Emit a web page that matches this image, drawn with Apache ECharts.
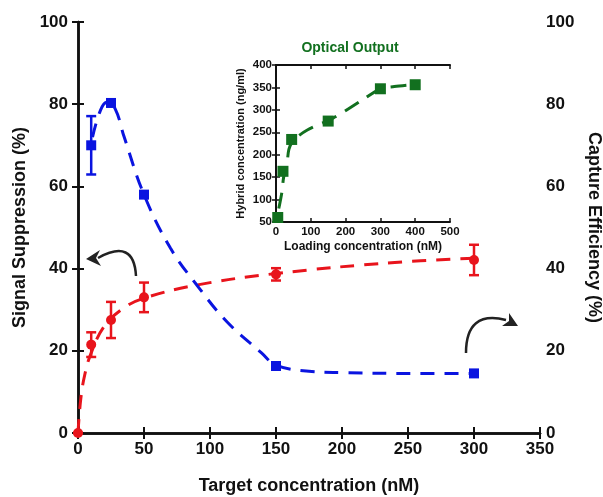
<!DOCTYPE html>
<html lang="en">
<head>
    <meta charset="UTF-8">
    <title>Signal suppression / capture efficiency</title>
    <script src="https://cdn.jsdelivr.net/npm/echarts@6/dist/echarts.min.js"></script>
    <style>
        html, body { margin: 0; padding: 0; background: #fff; }
        #main { width: 603px; height: 497px; }
    </style>
</head>
<body>
    <div id="main"></div>
    <script>
        // signal suppression (left axis, red)
        var redX = [0, 10, 25, 50, 150, 300];
        var redY = [0, 21.5, 27.5, 33, 38.6, 42.1];
        var redErr = [0, 3, 4.4, 3.6, 1.5, 3.7];
        // fitted red curve
        var redFitX = [0, 2, 5, 10, 20, 35, 50, 90, 150, 240, 300];
        var redFitY = [0, 8, 14, 19.5, 26, 30.5, 32.8, 36, 38.8, 41.5, 42.5];

        // capture efficiency (right axis, blue)
        var blueX = [10, 25, 50, 150, 300];
        var blueY = [70, 80.3, 58, 16.3, 14.5];
        var blueErr = [7.1, 0.6, 0.6, 0.5, 0.4];
        var blueFitX = [11, 17, 22, 28, 35, 50, 70, 90, 113, 139, 150, 175, 200, 250, 300];
        var blueFitY = [72, 78.5, 80.5, 79, 72, 58, 45, 36, 27, 19.5, 16.5, 15, 14.7, 14.5, 14.5];

        // inset: optical output
        var insetX = [5, 20, 45, 150, 300, 400];
        var insetY = [60, 163, 234, 275, 347, 356];
        var insetFitX = [8, 17, 22, 31, 37, 50, 90, 165, 240, 300, 340, 400];
        var insetFitY = [80, 117, 150, 175, 212, 232, 255, 282, 318, 347, 352, 357];

        var font = "'Liberation Sans', Arial, sans-serif";
        var red = '#e8141c';
        var blue = '#0a14e0';
        var green = '#12701f';

        function zip(xs, ys) {
            return xs.map(function (x, i) { return [x, ys[i]]; });
        }
        function errData(xs, ys, es) {
            return xs.map(function (x, i) { return [x, ys[i] - es[i], ys[i] + es[i]]; });
        }
        function errBars(color) {
            return function (params, api) {
                var x = api.value(0);
                var lo = api.coord([x, api.value(1)]);
                var hi = api.coord([x, api.value(2)]);
                var w = 5;
                var st = { stroke: color, lineWidth: 2.5 };
                return {
                    type: 'group',
                    children: [
                        { type: 'line', shape: { x1: lo[0], y1: lo[1], x2: hi[0], y2: hi[1] }, style: st },
                        { type: 'line', shape: { x1: lo[0] - w, y1: lo[1], x2: lo[0] + w, y2: lo[1] }, style: st },
                        { type: 'line', shape: { x1: hi[0] - w, y1: hi[1], x2: hi[0] + w, y2: hi[1] }, style: st }
                    ]
                };
            };
        }

        var lbl = { color: '#111', fontFamily: font, fontWeight: 'bold', fontSize: 17 };
        var axLine = { lineStyle: { color: '#111', width: 2.5 } };
        var tick = { inside: true, length: 6, lineStyle: { color: '#111', width: 2 } };
        var inLbl = { color: '#111', fontFamily: font, fontWeight: 'bold', fontSize: 11.5, margin: 4 };
        var inLine = { lineStyle: { color: '#111', width: 2 } };
        var inTick = { inside: true, length: 4, lineStyle: { color: '#111', width: 1.5 } };

        var chart = echarts.init(document.getElementById('main'));
        var option = {
            animation: false,
            backgroundColor: '#fff',
            title: {
                text: 'Optical Output',
                left: 345, top: 36, textAlign: 'center',
                textStyle: { color: green, fontFamily: font, fontWeight: 'bold', fontSize: 14 }
            },
            grid: [
                { left: 78, right: 63, top: 22, bottom: 64, outerBoundsMode: 'none' },
                { left: 276, top: 65, width: 174, height: 157, outerBoundsMode: 'none' }
            ],
            xAxis: [
                {
                    gridIndex: 0, type: 'value', min: 0, max: 350, interval: 50,
                    name: 'Target concentration (nM)', nameLocation: 'middle', nameGap: 44,
                    nameTextStyle: { color: '#111', fontFamily: font, fontWeight: 'bold', fontSize: 18 },
                    axisLine: axLine, axisTick: tick, axisLabel: lbl, splitLine: { show: false }
                },
                {
                    gridIndex: 0, type: 'value', min: 0, max: 350, interval: 50, position: 'top',
                    axisLine: axLine, axisTick: tick, axisLabel: { show: false }, splitLine: { show: false }
                },
                {
                    gridIndex: 1, type: 'value', min: 0, max: 500, interval: 100,
                    name: 'Loading concentration (nM)', nameLocation: 'middle', nameGap: 19,
                    nameTextStyle: { color: '#111', fontFamily: font, fontWeight: 'bold', fontSize: 12 },
                    axisLine: inLine, axisTick: inTick, axisLabel: inLbl, splitLine: { show: false }
                },
                {
                    gridIndex: 1, type: 'value', min: 0, max: 500, interval: 100, position: 'top',
                    axisLine: inLine, axisTick: inTick, axisLabel: { show: false }, splitLine: { show: false }
                }
            ],
            yAxis: [
                {
                    gridIndex: 0, type: 'value', min: 0, max: 100, interval: 20,
                    name: 'Signal Suppression (%)', nameLocation: 'middle', nameGap: 49,
                    nameTextStyle: { color: '#111', fontFamily: font, fontWeight: 'bold', fontSize: 18 },
                    axisLine: axLine, axisTick: tick, axisLabel: Object.assign({}, lbl, { margin: 10 }),
                    splitLine: { show: false }
                },
                {
                    gridIndex: 0, type: 'value', min: 0, max: 100, interval: 20, position: 'right',
                    name: 'Capture Efficiency (%)', nameLocation: 'middle', nameGap: 33, nameRotate: -90,
                    nameTextStyle: { color: '#111', fontFamily: font, fontWeight: 'bold', fontSize: 18 },
                    axisLine: axLine, axisTick: tick, axisLabel: Object.assign({}, lbl, { margin: 6 }),
                    splitLine: { show: false }
                },
                {
                    gridIndex: 1, type: 'value', min: 50, max: 400, interval: 50,
                    name: 'Hybrid concentration (ng/ml)', nameLocation: 'middle', nameGap: 30,
                    nameTextStyle: { color: '#111', fontFamily: font, fontWeight: 'bold', fontSize: 11 },
                    axisLine: inLine, axisTick: inTick, axisLabel: inLbl, splitLine: { show: false }
                },
                {
                    gridIndex: 1, type: 'value', min: 50, max: 400, interval: 50, position: 'right',
                    axisLine: inLine, axisTick: inTick, axisLabel: { show: false }, splitLine: { show: false }
                }
            ],
            series: [
                {
                    type: 'line', xAxisIndex: 0, yAxisIndex: 0, smooth: 0.4, symbol: 'none', z: 2,
                    data: zip(redFitX, redFitY),
                    lineStyle: { color: red, width: 3, type: [14, 10] }
                },
                {
                    type: 'line', xAxisIndex: 0, yAxisIndex: 1, smooth: 0.4, symbol: 'none', z: 2,
                    data: zip(blueFitX, blueFitY),
                    lineStyle: { color: blue, width: 3, type: [14, 10] }
                },
                {
                    type: 'custom', xAxisIndex: 0, yAxisIndex: 0, z: 3,
                    renderItem: errBars(red), data: errData(redX, redY, redErr)
                },
                {
                    type: 'custom', xAxisIndex: 0, yAxisIndex: 1, z: 3,
                    renderItem: errBars(blue), data: errData(blueX, blueY, blueErr)
                },
                {
                    type: 'scatter', xAxisIndex: 0, yAxisIndex: 0, clip: false, z: 4,
                    symbol: 'circle', symbolSize: 10, itemStyle: { color: red, opacity: 1 },
                    data: zip(redX, redY)
                },
                {
                    type: 'scatter', xAxisIndex: 0, yAxisIndex: 1, clip: false, z: 4,
                    symbol: 'rect', symbolSize: 10, itemStyle: { color: blue, opacity: 1 },
                    data: zip(blueX, blueY)
                },
                {
                    type: 'line', xAxisIndex: 2, yAxisIndex: 2, smooth: 0.3, symbol: 'none', z: 2,
                    data: zip(insetFitX, insetFitY),
                    lineStyle: { color: green, width: 3, type: [16, 10] }
                },
                {
                    type: 'scatter', xAxisIndex: 2, yAxisIndex: 2, clip: false, z: 4,
                    symbol: 'rect', symbolSize: 11, itemStyle: { color: green, opacity: 1 },
                    data: zip(insetX, insetY)
                }
            ],
            graphic: [
                {
                    type: 'bezierCurve', z: 10,
                    shape: { x1: 136, y1: 276, cpx1: 134, cpy1: 238, x2: 98, y2: 258 },
                    style: { stroke: '#222', lineWidth: 2.5, fill: null }
                },
                {
                    type: 'polygon', z: 10,
                    shape: { points: [[86, 259], [100, 250], [96, 258], [101, 266]] },
                    style: { fill: '#222' }
                },
                {
                    type: 'bezierCurve', z: 10,
                    shape: { x1: 466, y1: 353, cpx1: 466, cpy1: 310, x2: 506, y2: 320 },
                    style: { stroke: '#222', lineWidth: 2.5, fill: null }
                },
                {
                    type: 'polygon', z: 10,
                    shape: { points: [[518, 326], [502, 326], [509, 321], [509, 313]] },
                    style: { fill: '#222' }
                }
            ]
        };
        chart.setOption(option);
    </script>
</body>
</html>
